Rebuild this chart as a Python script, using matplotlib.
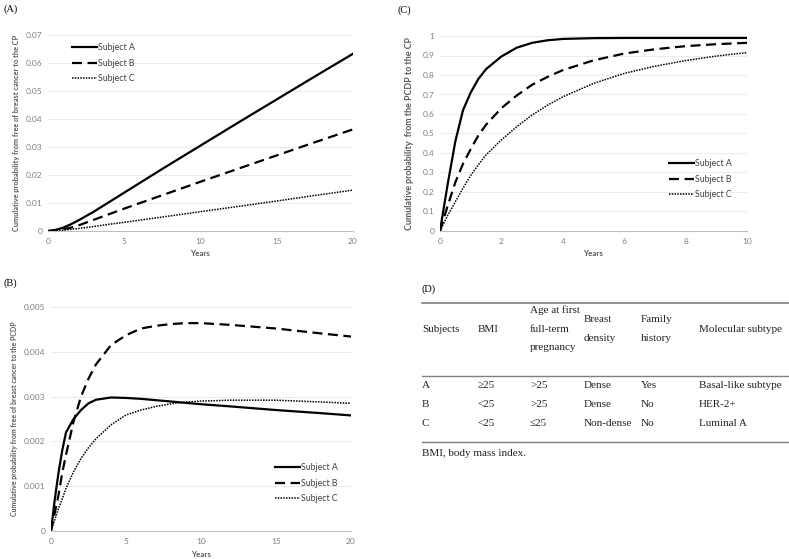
import numpy as np
import matplotlib
matplotlib.use("Agg")
import matplotlib.pyplot as plt
from matplotlib.lines import Line2D
from matplotlib.ticker import FuncFormatter

################################################################################
## data

## (A) free of breast cancer -> CP
years_a = [0, 0.5, 1, 1.5, 2, 3, 4, 5, 7.5, 10, 12.5, 15, 17.5, 20]
a_subj_a = [0, 0.0004, 0.0012, 0.0024, 0.0038, 0.0069, 0.0103, 0.0137, 0.0222,
	0.0305, 0.0388, 0.0470, 0.0552, 0.0633]
a_subj_b = [0, 0.0002, 0.0006, 0.0012, 0.0020, 0.0040, 0.0060, 0.0080, 0.0128,
	0.0176, 0.0223, 0.0270, 0.0317, 0.0363]
a_subj_c = [0, 0.0001, 0.0003, 0.0006, 0.0009, 0.0016, 0.0024, 0.0031, 0.0050,
	0.0069, 0.0088, 0.0107, 0.0127, 0.0146]

## (B) free of breast cancer -> PCDP
years_b = [0, 0.25, 0.5, 0.75, 1, 1.5, 2, 2.5, 3, 4, 5, 6, 7, 8, 9, 10, 12, 15,
	18, 20]
b_subj_a = [0, 0.0007, 0.0013, 0.0018, 0.0022, 0.0025, 0.0027, 0.00285, 0.00293,
	0.00298, 0.00297, 0.00295, 0.00292, 0.00289, 0.00286, 0.00283, 0.00278,
	0.0027, 0.00263, 0.00258]
b_subj_b = [0, 0.0004, 0.0008, 0.0013, 0.0017, 0.00244, 0.0030, 0.0034, 0.00372,
	0.00415, 0.00437, 0.00452, 0.00458, 0.00462, 0.00464, 0.00464, 0.0046,
	0.00452, 0.00441, 0.00434]
b_subj_c = [0, 0.00025, 0.0005, 0.00072, 0.00095, 0.00132, 0.00162, 0.00186,
	0.00206, 0.00237, 0.00259, 0.0027, 0.00278, 0.00284, 0.00288, 0.0029,
	0.00292, 0.00292, 0.00288, 0.00285]

## (C) PCDP -> CP
years_c = [0, 0.25, 0.5, 0.75, 1, 1.25, 1.5, 2, 2.5, 3, 3.5, 4, 5, 6, 7, 8, 9, 10]
c_subj_a = [0, 0.24, 0.46, 0.62, 0.71, 0.78, 0.83, 0.895, 0.94, 0.965, 0.978,
	0.985, 0.989, 0.99, 0.99, 0.99, 0.99, 0.99]
c_subj_b = [0, 0.13, 0.25, 0.345, 0.42, 0.49, 0.545, 0.63, 0.695, 0.75, 0.79,
	0.825, 0.875, 0.91, 0.932, 0.948, 0.958, 0.965]
c_subj_c = [0, 0.08, 0.15, 0.22, 0.285, 0.34, 0.39, 0.467, 0.535, 0.595, 0.645,
	0.688, 0.757, 0.808, 0.845, 0.874, 0.897, 0.915]

subject_names = ["Subject A", "Subject B", "Subject C"]

## (D) table
table_header = [["Subjects"], ["BMI"], ["Age at first", "full-term", "pregnancy"],
	["Breast", "density"], ["Family", "history"], ["Molecular subtype"]]
table_rows = [["A", "\u226525", ">25", "Dense", "Yes", "Basal-like subtype"],
	["B", "<25", ">25", "Dense", "No", "HER-2+"],
	["C", "<25", "\u226425", "Non-dense", "No", "Luminal A"]]
table_note = "BMI, body mass index."

################################################################################
W, H = 789., 559.

def fx(px):
	return px / W

def fy(py):
	return 1. - py / H

def axes_px(fig, left, top, right, bottom):
	return fig.add_axes([fx(left), fy(bottom), (right - left) / W, (bottom - top) / H])

styles = [dict(color='k', lw=1.6, ls='-'),
	dict(color='k', lw=1.6, ls=(0, (4.5, 2.5))),
	dict(color='k', lw=1.1, ls=(0, (1, 0.8)))]

tick_col = '#808080'
lab_col = '#595959'
sans = ['Lato', 'DejaVu Sans']

def excel_axes(ax, x, ys, xmax, xticks, ymax, yticks, ylabel, ylab_size,
		ylab_x, xlab_y, leg_xy):
	for y, st in zip(ys, styles):
		ax.plot(x, y, **st)
	ax.set_xlim(0, xmax)
	ax.set_ylim(0, ymax)
	ax.set_xticks(xticks)
	ax.set_yticks(yticks)
	fmt = FuncFormatter(lambda v, p: "%g" % round(v, 6))
	ax.xaxis.set_major_formatter(fmt)
	ax.yaxis.set_major_formatter(fmt)
	for s in ['top', 'right', 'left']:
		ax.spines[s].set_visible(False)
	ax.spines['bottom'].set_color('#bfbfbf')
	ax.spines['bottom'].set_linewidth(0.8)
	ax.grid(axis='y', color='#e8e8e8', lw=0.6)
	ax.set_axisbelow(True)
	ax.tick_params(axis='both', length=0, labelsize=6, labelcolor=tick_col)
	ax.tick_params(axis='x', pad=5)
	ax.tick_params(axis='y', pad=4)
	for t in ax.get_xticklabels() + ax.get_yticklabels():
		t.set_family(sans)
	ax.set_xlabel("Years", fontsize=5.8, fontweight='bold', color=lab_col,
		family=sans)
	ax.set_ylabel(ylabel, fontsize=ylab_size, fontweight='bold', color=lab_col,
		family=sans)
	ax.yaxis.set_label_coords(ylab_x, 0.5)
	ax.xaxis.set_label_coords(0.5, xlab_y)
	leg = ax.legend(subject_names, loc='upper left',
		bbox_to_anchor=(fx(leg_xy[0]), fy(leg_xy[1])),
		bbox_transform=ax.figure.transFigure, frameon=False, borderpad=0,
		borderaxespad=0, handlelength=2.9, handletextpad=0.1,
		labelspacing=0.75, prop={'family': sans, 'size': 6.3})
	for t in leg.get_texts():
		t.set_color('#404040')
	return ax

################################################################################
def main():
	fig = plt.figure(figsize=(W / 100., H / 100.), dpi=100)
	fig.patch.set_facecolor('white')

	## (A)
	ax1 = axes_px(fig, 48, 35, 353, 231)
	excel_axes(ax1, years_a, [a_subj_a, a_subj_b, a_subj_c], 20,
		[0, 5, 10, 15, 20], 0.07, np.arange(0, 0.071, 0.01),
		"Cumulative probability from free of breast cancer to the CP", 5.3,
		-0.092, -0.097, (72, 43))

	## (C)
	ax2 = axes_px(fig, 440, 36, 747, 231)
	excel_axes(ax2, years_c, [c_subj_a, c_subj_b, c_subj_c], 10,
		[0, 2, 4, 6, 8, 10], 1.0, np.arange(0, 1.01, 0.1),
		"Cumulative probability  from the PCDP to the CP", 6.4,
		-0.085, -0.097, (669, 159))

	## (B)
	ax3 = axes_px(fig, 51, 307, 351, 531)
	excel_axes(ax3, years_b, [b_subj_a, b_subj_b, b_subj_c], 20,
		[0, 5, 10, 15, 20], 0.005, np.arange(0, 0.0051, 0.001),
		"Cumulative probability from free of breast cancer to the PCDP", 5.0,
		-0.11, -0.089, (275, 463))

	## panel letters
	serif = 'Liberation Serif'
	for lab, x, y in [("(A)", 3, 9), ("(C)", 397, 10), ("(B)", 3, 283),
			("(D)", 422, 289)]:
		fig.text(fx(x), fy(y), lab, family=serif, fontsize=7.5, va='center',
			ha='left')

	## (D) table
	col_x = [422, 478, 530, 584, 641, 699]
	head_mid = 329.
	row_y = [386, 404.5, 423]
	rule_col = '#808080'
	fs = 8
	for y, lw in [(303, 1.2), (376, 1.0), (442, 1.0)]:
		fig.add_artist(Line2D([fx(422), fx(789)], [fy(y), fy(y)], color=rule_col,
			lw=lw, transform=fig.transFigure))
	for x, cell in zip(col_x, table_header):
		n = len(cell)
		for k, txt in enumerate(cell):
			y = head_mid + (k - (n - 1) / 2.) * 19.
			fig.text(fx(x), fy(y), txt, family=serif, fontsize=fs, va='center',
				ha='left', color='#222222')
	for y, row in zip(row_y, table_rows):
		for x, txt in zip(col_x, row):
			fig.text(fx(x), fy(y), txt, family=serif, fontsize=fs, va='center',
				ha='left', color='#222222')
	fig.text(fx(422), fy(454), table_note, family=serif, fontsize=fs,
		va='center', ha='left', color='#222222')

	plt.savefig("out.png", dpi=100, facecolor='white')
	plt.close()

## End of function 'main'

################################################################################
if __name__ == "__main__":
	main()
